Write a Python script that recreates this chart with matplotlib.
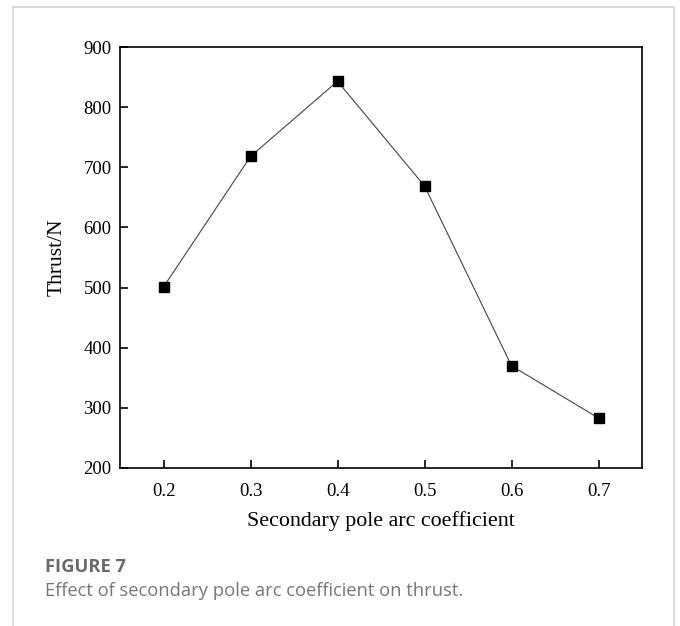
import matplotlib
matplotlib.use("Agg")
import matplotlib.pyplot as plt
from matplotlib.lines import Line2D

coef = [0.2, 0.3, 0.4, 0.5, 0.6, 0.7]
thrust = [501, 718, 843, 669, 370, 283]
xticks = [0.2, 0.3, 0.4, 0.5, 0.6, 0.7]
yticks = [200, 300, 400, 500, 600, 700, 800, 900]

fig = plt.figure(figsize=(6.8, 6.26), dpi=100)
W, H = 680, 626
ax = fig.add_axes([120 / W, 1 - 468 / H, (642 - 120) / W, (468 - 47) / H])

ax.plot(coef, thrust, color="#444444", linewidth=0.8, marker="s", markersize=7,
        markerfacecolor="black", markeredgecolor="black")
ax.set_xlim(0.15, 0.75)
ax.set_ylim(200, 900)
ax.set_xticks(xticks)
ax.set_xticklabels([f"{v:.1f}" for v in xticks])
ax.set_yticks(yticks)
ax.tick_params(direction="in", length=6, width=1.2, labelsize=13.5, pad=6)
ax.tick_params(axis="x", pad=11)
for lbl in ax.get_xticklabels() + ax.get_yticklabels():
    lbl.set_fontfamily("Liberation Serif")
for s in ax.spines.values():
    s.set_linewidth(1.2)
ax.set_xlabel("Secondary pole arc coefficient", fontfamily="Liberation Serif", fontsize=15.8, labelpad=8)
ax.set_ylabel("Thrust/N", fontfamily="Liberation Serif", fontsize=15.5, labelpad=12)

# outer frame
fc = "#d5d5d5"
fig.add_artist(Line2D([13 / W, 13 / W], [0, 1 - 7 / H], transform=fig.transFigure, color=fc, lw=1.2))
fig.add_artist(Line2D([674 / W, 674 / W], [0, 1 - 7 / H], transform=fig.transFigure, color=fc, lw=1.2))
fig.add_artist(Line2D([13 / W, 674 / W], [1 - 7 / H, 1 - 7 / H], transform=fig.transFigure, color=fc, lw=1.2))

fig.text(45 / W, 1 - 567 / H, "FIGURE 7", fontfamily="Open Sans", fontweight="bold",
         fontsize=13.2, color="#6a6a6a", va="center", ha="left")
fig.text(45 / W, 1 - 591 / H, "Effect of secondary pole arc coefficient on thrust.",
         fontfamily="Open Sans", fontsize=13.2, color="#777777", va="center", ha="left")

fig.savefig("out.png", dpi=100)
